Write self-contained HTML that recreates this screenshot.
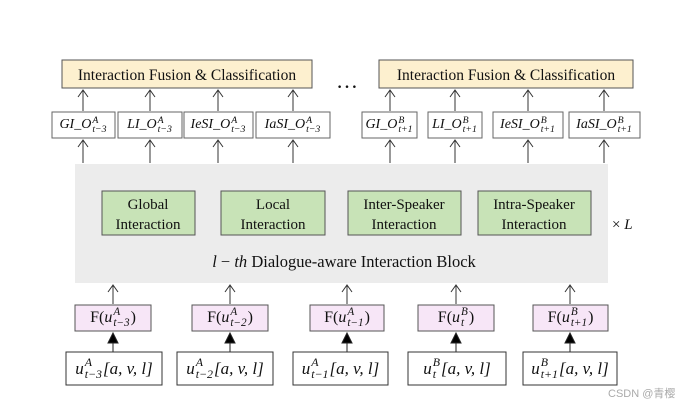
<!DOCTYPE html>
<html><head><style>
html,body{margin:0;padding:0;background:#fff;}
#w{position:relative;width:691px;height:406px;overflow:hidden;}
svg{display:block;position:absolute;left:0;top:0;}
text{font-family:"Liberation Serif",serif;fill:#111;}
.m{font-style:italic;}
.lb{position:absolute;display:flex;align-items:center;justify-content:center;font-family:"Liberation Serif",serif;color:#111;white-space:nowrap;}
.i{font-style:italic;}
.ss{display:inline-flex;flex-direction:column;line-height:0.95;font-size:0.7em;font-style:italic;vertical-align:middle;margin:0 1px;text-align:left;}
.ss span{display:block;}
</style></head><body><div id="w">
<svg width="691" height="406" viewBox="0 0 691 406" xmlns="http://www.w3.org/2000/svg">
<rect x="75" y="164" width="533" height="119" fill="#ececec"/>
<rect x="62" y="60" width="250" height="28" fill="#fdf0cf" stroke="#555"/>
<rect x="379" y="60" width="254" height="28" fill="#fdf0cf" stroke="#555"/>
<text x="187" y="80" font-size="15.5" text-anchor="middle">Interaction  Fusion &amp; Classification</text>
<text x="506" y="80" font-size="15.5" text-anchor="middle">Interaction  Fusion &amp; Classification</text>
<text x="347" y="88" font-size="22" text-anchor="middle">…</text>
<g fill="#fff" stroke="#666">
<rect x="52" y="112" width="63" height="26"/>
<rect x="118" y="112" width="64" height="26"/>
<rect x="184" y="112" width="69" height="26"/>
<rect x="256" y="112" width="74" height="26"/>
<rect x="362" y="112" width="55" height="26"/>
<rect x="428" y="112" width="54" height="26"/>
<rect x="493" y="112" width="70" height="26"/>
<rect x="569" y="112" width="71" height="26"/>
</g>
<g stroke="#333" stroke-width="1" fill="none">
<path d="M83 111V91M78 97L83 90L88 97"/>
<path d="M150 111V91M145 97L150 90L155 97"/>
<path d="M218 111V91M213 97L218 90L223 97"/>
<path d="M293 111V91M288 97L293 90L298 97"/>
<path d="M390 111V91M385 97L390 90L395 97"/>
<path d="M455 111V91M450 97L455 90L460 97"/>
<path d="M528 111V91M523 97L528 90L533 97"/>
<path d="M604 111V91M599 97L604 90L609 97"/>
<path d="M83 163V141M78 147L83 140L88 147"/>
<path d="M150 163V141M145 147L150 140L155 147"/>
<path d="M218 163V141M213 147L218 140L223 147"/>
<path d="M293 163V141M288 147L293 140L298 147"/>
<path d="M390 163V141M385 147L390 140L395 147"/>
<path d="M455 163V141M450 147L455 140L460 147"/>
<path d="M528 163V141M523 147L528 140L533 147"/>
<path d="M604 163V141M599 147L604 140L609 147"/>
<path d="M113 304V286M108 292L113 285L118 292"/>
<path d="M230 304V286M225 292L230 285L235 292"/>
<path d="M347 304V286M342 292L347 285L352 292"/>
<path d="M456 304V286M451 292L456 285L461 292"/>
<path d="M570 304V286M565 292L570 285L575 292"/>
</g>
<g fill="#c8e3b7" stroke="#555">
<rect x="102" y="191" width="93" height="44"/>
<rect x="221" y="191" width="104" height="44"/>
<rect x="348" y="191" width="113" height="44"/>
<rect x="478" y="191" width="113" height="44"/>
</g>
<g font-size="15" text-anchor="middle">
<text x="148" y="209">Global</text><text x="148" y="229">Interaction</text>
<text x="273" y="209">Local</text><text x="273" y="229">Interaction</text>
<text x="404" y="209">Inter-Speaker</text><text x="404" y="229">Interaction</text>
<text x="534" y="209">Intra-Speaker</text><text x="534" y="229">Interaction</text>
</g>
<text x="612" y="229" font-size="15">× <tspan class="m">L</tspan></text>
<text x="344" y="267" font-size="16.5" text-anchor="middle"><tspan class="m">l</tspan> − <tspan class="m">th</tspan>  Dialogue-aware Interaction Block</text>
<g fill="#f7e6f7" stroke="#555">
<rect x="75" y="305" width="76" height="26"/>
<rect x="192" y="305" width="76" height="26"/>
<rect x="310" y="305" width="74" height="26"/>
<rect x="418" y="305" width="76" height="26"/>
<rect x="533" y="305" width="75" height="26"/>
</g>
<g stroke="#222" fill="#000">
<path d="M113 352V340"/><path d="M108 343L113 333L118 343Z"/>
<path d="M230 352V340"/><path d="M225 343L230 333L235 343Z"/>
<path d="M347 352V340"/><path d="M342 343L347 333L352 343Z"/>
<path d="M456 352V340"/><path d="M451 343L456 333L461 343Z"/>
<path d="M570 352V340"/><path d="M565 343L570 333L575 343Z"/>
</g>
<g fill="#fff" stroke="#333">
<rect x="66" y="352" width="96" height="33"/>
<rect x="177" y="352" width="96" height="33"/>
<rect x="293" y="352" width="95" height="33"/>
<rect x="408" y="352" width="98" height="33"/>
<rect x="523" y="352" width="94" height="33"/>
</g>
<text x="608" y="397" font-size="11" style="font-family:'Liberation Sans','Noto Sans CJK SC',sans-serif;fill:#aaa">CSDN @青樱</text>
</svg>

<div class="lb" style="left:52px;top:112px;width:63px;height:26px;font-size:14px"><span class="i">GI_O</span><span class="ss"><span>A</span><span>t−3</span></span></div>
<div class="lb" style="left:118px;top:112px;width:64px;height:26px;font-size:14px"><span class="i">LI_O</span><span class="ss"><span>A</span><span>t−3</span></span></div>
<div class="lb" style="left:184px;top:112px;width:69px;height:26px;font-size:14px"><span class="i">IeSI_O</span><span class="ss"><span>A</span><span>t−3</span></span></div>
<div class="lb" style="left:256px;top:112px;width:74px;height:26px;font-size:14px"><span class="i">IaSI_O</span><span class="ss"><span>A</span><span>t−3</span></span></div>
<div class="lb" style="left:362px;top:112px;width:55px;height:26px;font-size:14px"><span class="i">GI_O</span><span class="ss"><span>B</span><span>t+1</span></span></div>
<div class="lb" style="left:428px;top:112px;width:54px;height:26px;font-size:14px"><span class="i">LI_O</span><span class="ss"><span>B</span><span>t+1</span></span></div>
<div class="lb" style="left:493px;top:112px;width:70px;height:26px;font-size:14px"><span class="i">IeSI_O</span><span class="ss"><span>B</span><span>t+1</span></span></div>
<div class="lb" style="left:569px;top:112px;width:71px;height:26px;font-size:14px"><span class="i">IaSI_O</span><span class="ss"><span>B</span><span>t+1</span></span></div>

<div class="lb" style="left:75px;top:305px;width:76px;height:26px;font-size:16px">F(<span class="i">u</span><span class="ss"><span>A</span><span>t−3</span></span>)</div>
<div class="lb" style="left:192px;top:305px;width:76px;height:26px;font-size:16px">F(<span class="i">u</span><span class="ss"><span>A</span><span>t−2</span></span>)</div>
<div class="lb" style="left:310px;top:305px;width:74px;height:26px;font-size:16px">F(<span class="i">u</span><span class="ss"><span>A</span><span>t−1</span></span>)</div>
<div class="lb" style="left:418px;top:305px;width:76px;height:26px;font-size:16px">F(<span class="i">u</span><span class="ss"><span>B</span><span>t</span></span>)</div>
<div class="lb" style="left:533px;top:305px;width:75px;height:26px;font-size:16px">F(<span class="i">u</span><span class="ss"><span>B</span><span>t+1</span></span>)</div>

<div class="lb" style="left:66px;top:352px;width:96px;height:33px;font-size:17px"><span class="i">u</span><span class="ss"><span>A</span><span>t−3</span></span><span class="i">[a, v, l]</span></div>
<div class="lb" style="left:177px;top:352px;width:96px;height:33px;font-size:17px"><span class="i">u</span><span class="ss"><span>A</span><span>t−2</span></span><span class="i">[a, v, l]</span></div>
<div class="lb" style="left:293px;top:352px;width:95px;height:33px;font-size:17px"><span class="i">u</span><span class="ss"><span>A</span><span>t−1</span></span><span class="i">[a, v, l]</span></div>
<div class="lb" style="left:408px;top:352px;width:98px;height:33px;font-size:17px"><span class="i">u</span><span class="ss"><span>B</span><span>t</span></span><span class="i">[a, v, l]</span></div>
<div class="lb" style="left:523px;top:352px;width:94px;height:33px;font-size:17px"><span class="i">u</span><span class="ss"><span>B</span><span>t+1</span></span><span class="i">[a, v, l]</span></div>
</div></body></html>
